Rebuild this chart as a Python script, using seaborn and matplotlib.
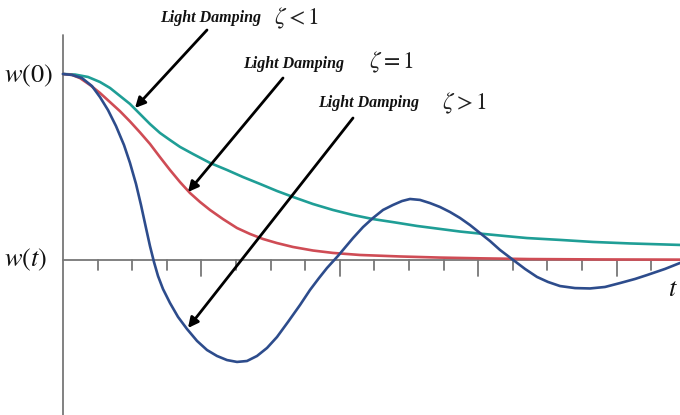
import numpy as np
import pandas as pd
import seaborn as sns
import matplotlib
matplotlib.use("Agg")
import matplotlib.pyplot as plt

# Free response w(t) for three damping regimes (t in tick units, w normalised by w(0))
t_light = [0.000, 0.347, 0.723, 1.069, 1.358, 1.647, 1.936, 2.225, 2.514, 2.803,
           3.092, 3.382, 3.757, 4.249, 4.740, 5.202, 5.694, 6.185, 6.647, 7.225,
           7.803, 8.382, 8.960, 9.595, 10.231, 10.896, 11.474, 12.052, 12.775, 13.410,
           14.364, 15.318, 16.387, 17.832]
w_light = [1.000, 0.997, 0.984, 0.957, 0.925, 0.882, 0.839, 0.785, 0.731, 0.683,
           0.645, 0.608, 0.570, 0.522, 0.484, 0.446, 0.409, 0.371, 0.339, 0.301,
           0.269, 0.242, 0.220, 0.202, 0.183, 0.167, 0.153, 0.142, 0.129, 0.118,
           0.108, 0.097, 0.089, 0.081]

t_critical = [0.000, 0.260, 0.491, 0.780, 1.069, 1.358, 1.647, 1.936, 2.225, 2.514,
              2.803, 3.092, 3.382, 3.671, 3.960, 4.249, 4.624, 5.029, 5.405, 5.780,
              6.185, 6.647, 7.225, 7.803, 8.584, 9.740, 10.896, 12.052, 13.497, 15.520,
              17.832]
w_critical = [1.000, 0.995, 0.978, 0.941, 0.898, 0.849, 0.800, 0.745, 0.686, 0.624,
              0.553, 0.484, 0.419, 0.360, 0.312, 0.269, 0.220, 0.172, 0.140, 0.113,
              0.091, 0.070, 0.051, 0.038, 0.027, 0.019, 0.013, 0.009, 0.005, 0.003,
              0.002]

t_under = [0.000, 0.260, 0.549, 0.838, 1.069, 1.301, 1.532, 1.763, 1.936, 2.110,
           2.254, 2.399, 2.514, 2.630, 2.746, 2.890, 3.092, 3.324, 3.584, 3.873,
           4.162, 4.451, 4.740, 5.029, 5.318, 5.607, 5.896, 6.185, 6.503, 6.850,
           7.139, 7.399, 7.630, 7.948, 8.382, 8.671, 8.960, 9.249, 9.538, 9.798,
           10.029, 10.318, 10.607, 10.896, 11.185, 11.474, 11.763, 12.052, 12.341, 12.630,
           12.977, 13.353, 13.699, 14.017, 14.364, 14.798, 15.231, 15.665, 16.098, 16.532,
           16.879, 17.399, 17.832]
w_under = [1.000, 0.995, 0.978, 0.935, 0.876, 0.806, 0.720, 0.618, 0.522, 0.409,
           0.296, 0.172, 0.075, -0.011, -0.086, -0.156, -0.231, -0.306, -0.371, -0.435,
           -0.484, -0.516, -0.538, -0.548, -0.543, -0.516, -0.473, -0.414, -0.333, -0.242,
           -0.161, -0.097, -0.043, 0.022, 0.118, 0.177, 0.226, 0.269, 0.296, 0.317,
           0.328, 0.323, 0.306, 0.285, 0.258, 0.226, 0.188, 0.145, 0.102, 0.054,
           0.005, -0.048, -0.091, -0.118, -0.140, -0.151, -0.153, -0.145, -0.124, -0.102,
           -0.081, -0.048, -0.016]

tick_positions = list(range(1, 18))
long_ticks = [4, 8, 12, 16]

labels = ["Light Damping", "Light Damping", "Light Damping"]
zeta_labels = [r"$\zeta<1$", r"$\zeta=1$", r"$\zeta>1$"]

sns.set_style("white")
plt.rcParams["mathtext.fontset"] = "stix"
plt.rcParams["font.family"] = ["Liberation Serif", "DejaVu Serif"]

W, H = 680, 415
X0, Y0 = 63, 260          # origin in pixels
SX, SY = 34.6, 186.0      # pixels per tick / per unit w


def px(x, y):
    """Pixel position -> data coordinates."""
    return (x - X0) / SX, (Y0 - y) / SY


fig = plt.figure(figsize=(W / 100, H / 100), dpi=100)
ax = fig.add_axes([0, 0, 1, 1])
ax.set_xlim(-X0 / SX, (W - X0) / SX)
ax.set_ylim((Y0 - H) / SY, Y0 / SY)
ax.axis("off")

axis_color = "#777777"
# axes drawn through the origin
ax.plot([0, 0], [(Y0 - H) / SY, px(0, 35)[1]], color=axis_color, lw=1.3, zorder=1)
ax.plot([0, (W - X0) / SX], [0, 0], color=axis_color, lw=1.3, zorder=1)
for k in tick_positions:
    length = 16 if k in long_ticks else 10
    ax.plot([k, k], [0, -length / SY], color=axis_color, lw=1.3, zorder=1)

curves = pd.DataFrame({
    "t": t_light + t_critical + t_under,
    "w": w_light + w_critical + w_under,
    "regime": (["light"] * len(t_light) + ["critical"] * len(t_critical)
               + ["under"] * len(t_under)),
})
palette = {"light": "#1f9e96", "critical": "#cf4c55", "under": "#2d4c8c"}
sns.lineplot(data=curves, x="t", y="w", hue="regime", palette=palette,
             estimator=None, sort=False, lw=1.9, legend=False, ax=ax, zorder=3)

# axis labels
ax.text(*px(4, 76), r"$w(0)$", fontsize=19, ha="left", va="center", color="#111111")
ax.text(*px(4, 260), r"$w(t)$", fontsize=19, ha="left", va="center", color="#111111")
ax.text(*px(668, 290), r"$t$", fontsize=19, ha="left", va="center", color="#111111")

# regime annotations
text_pos = [(160, 18), (243, 64), (318, 103)]
zeta_pos = [(274, 18), (369, 62), (442, 103)]
arrow_tail = [(207, 30), (283, 78), (353, 118)]
arrow_head = [(135, 108), (188, 192), (188, 328)]

for lab, zl, tp, zp, a0, a1 in zip(labels, zeta_labels, text_pos, zeta_pos,
                                   arrow_tail, arrow_head):
    ax.text(*px(*tp), lab, fontsize=11.5, fontstyle="italic", fontweight="bold",
            ha="left", va="center", color="#111111")
    ax.text(*px(*zp), zl, fontsize=17, ha="left", va="center", color="#222222")
    ax.annotate("", xy=px(*a1), xytext=px(*a0),
                arrowprops=dict(arrowstyle="-|>", color="black", lw=2.0,
                                mutation_scale=15, shrinkA=0, shrinkB=0),
                zorder=4)

fig.savefig("out.png", dpi=100)
